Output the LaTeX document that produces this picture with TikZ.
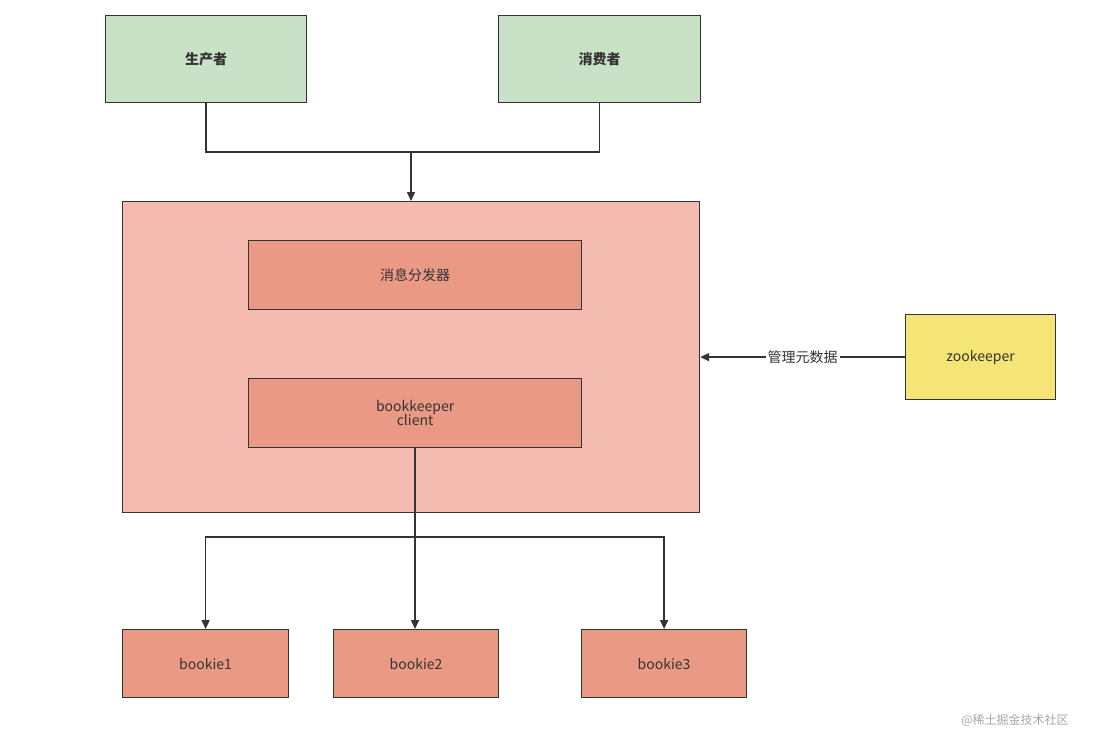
\documentclass[tikz,border=0pt]{standalone}
\usepackage{fontspec}
\setmainfont{Noto Sans CJK SC}
\usetikzlibrary{arrows.meta}
\definecolor{gfill}{HTML}{C9E1C6}
\definecolor{pbig}{HTML}{F4BCB0}
\definecolor{pbox}{HTML}{EA9A84}
\definecolor{yfill}{HTML}{F5E476}
\definecolor{ln}{HTML}{333333}
\begin{document}
\begin{tikzpicture}[x=1pt,y=-1pt,
  box/.style={draw=ln,line width=1.2pt,anchor=north west,inner sep=0pt,align=center,font=\fontsize{14}{16}\selectfont,text=ln},
  con/.style={draw=ln,line width=1.5pt},
  arr/.style={con,-{Triangle[length=9pt,width=8pt]}}]
\useasboundingbox (0,0) rectangle (1100,736);
\node[box,fill=gfill,minimum width=201pt,minimum height=87pt,font=\fontsize{14}{16}\selectfont\bfseries] (p) at (105,15) {生产者};
\node[box,fill=gfill,minimum width=202pt,minimum height=87pt,font=\fontsize{14}{16}\selectfont\bfseries] (c) at (498,15) {消费者};
\node[box,fill=pbig,minimum width=577pt,minimum height=311pt] (big) at (122,201) {};
\node[box,fill=pbox,minimum width=333pt,minimum height=69pt] (d) at (248,240) {消息分发器};
\node[box,fill=pbox,minimum width=333pt,minimum height=69pt] (bk) at (248,378) {bookkeeper\\[-2pt]client};
\node[box,fill=yfill,minimum width=150pt,minimum height=85pt] (z) at (905,314) {zookeeper};
\node[box,fill=pbox,minimum width=166pt,minimum height=68pt] (b1) at (122,629) {bookie1};
\node[box,fill=pbox,minimum width=165pt,minimum height=68pt] (b2) at (333,629) {bookie2};
\node[box,fill=pbox,minimum width=165pt,minimum height=68pt] (b3) at (581,629) {bookie3};
\coordinate (j1) at (411,152);
\coordinate (j2) at (415,537);
\draw[con] (p.south) |- (j1) -| (c.south);
\draw[arr] (j1) -- (big.north -| j1);
\draw[arr] (z.west) -- node[fill=white,inner sep=2pt,font=\fontsize{14}{16}\selectfont,text=ln]{管理元数据} (big.east |- z.west);
\draw[con] (bk.south -| j2) -- (j2);
\draw[arr] (j2) -| (b1.north);
\draw[arr] (j2) -- (b2.north -| j2);
\draw[arr] (j2) -| (b3.north);
\node[text=gray!70,font=\fontsize{12}{14}\selectfont] (wm) at (1015,720) {@稀土掘金技术社区};
\end{tikzpicture}
\end{document}
